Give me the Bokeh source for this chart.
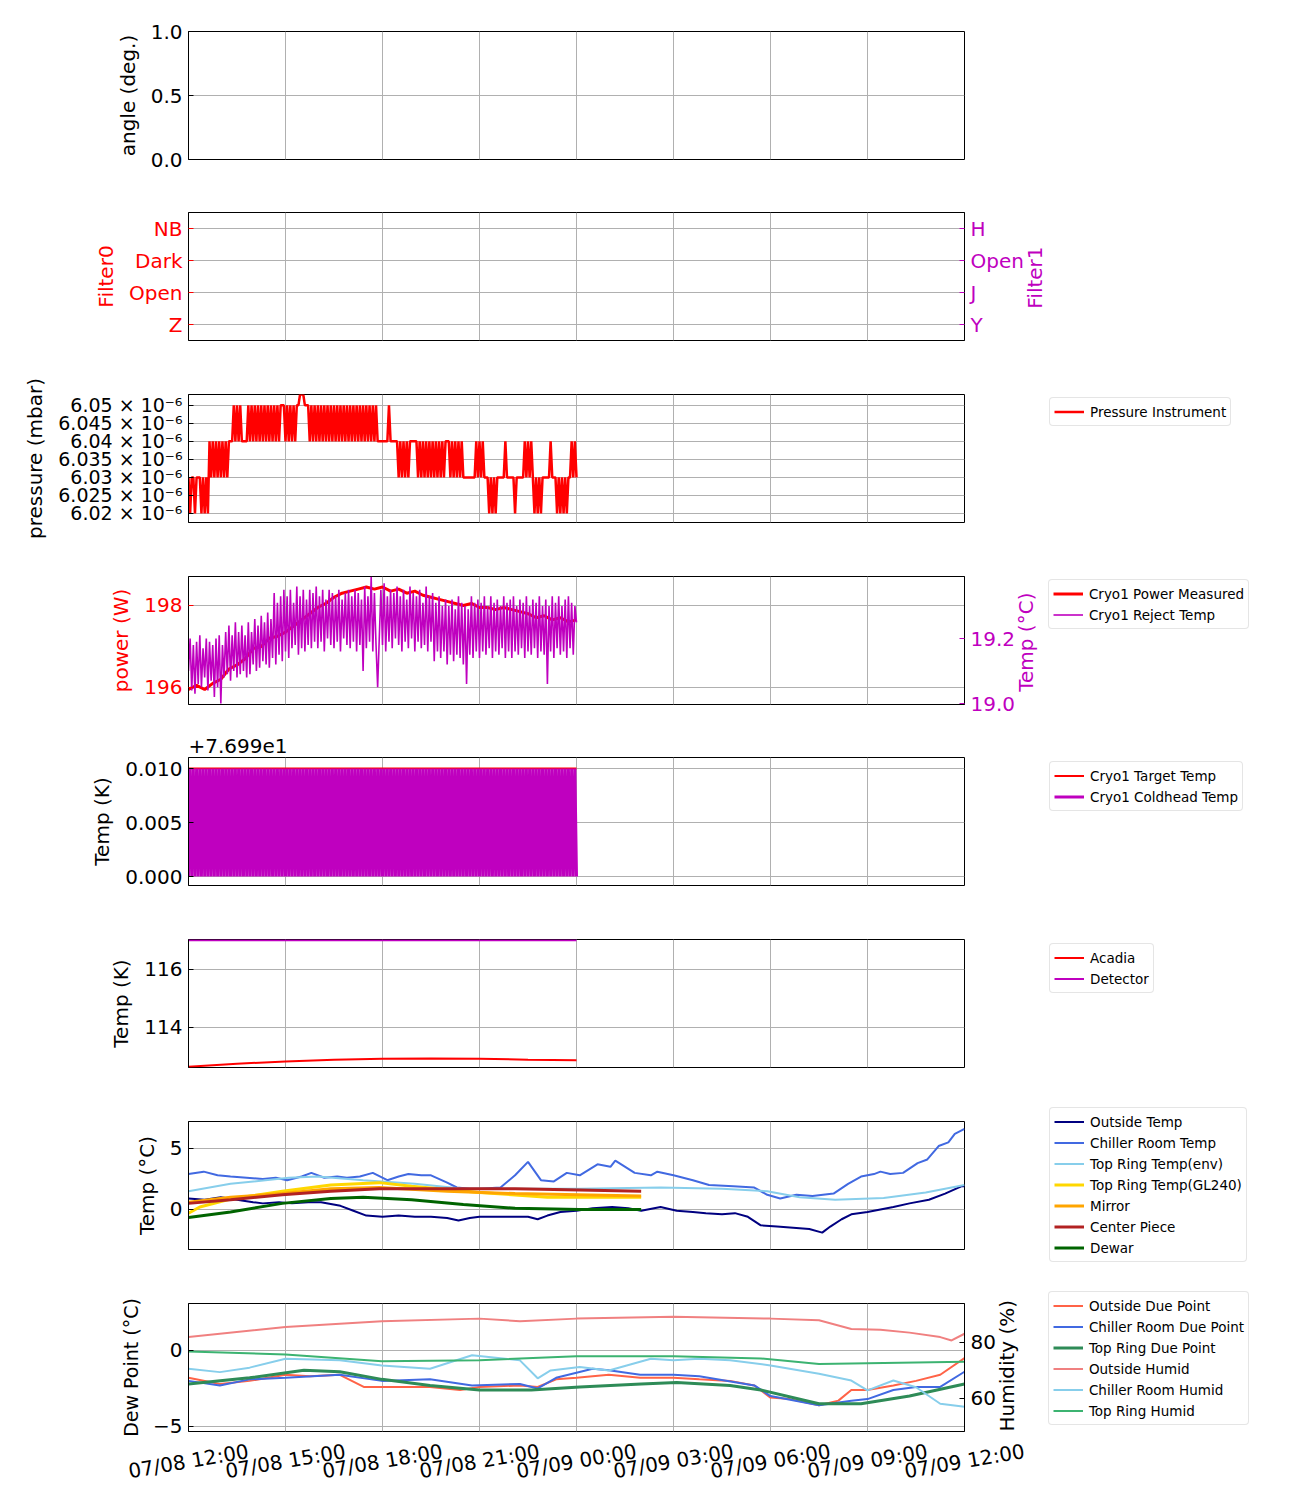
import math
from bokeh.plotting import figure
from bokeh.models import Range1d, LinearAxis, FixedTicker, Legend, LegendItem, ColumnDataSource
from bokeh.layouts import column
from bokeh.embed import file_html
from bokeh.resources import INLINE
from bokeh.core.properties import value

# ---------------- data ----------------
x_ticks = [0, 3, 6, 9, 12, 15, 18, 21, 24]
x_tick_labels = ["07/08 12:00", "07/08 15:00", "07/08 18:00", "07/08 21:00", "07/09 00:00",
                 "07/09 03:00", "07/09 06:00", "07/09 09:00", "07/09 12:00"]

angle_ticks = [0.0, 0.5, 1.0]
angle_tick_labels = ["0.0", "0.5", "1.0"]

filter_ticks = [0, 1, 2, 3]
filter0_labels = ["Z", "Open", "Dark", "NB"]
filter1_labels = ["Y", "J", "Open", "H"]

pressure_ticks = [6.02, 6.025, 6.03, 6.035, 6.04, 6.045, 6.05]
pressure_tick_labels = ["6.02 × 10⁻⁶", "6.025 × 10⁻⁶", "6.03 × 10⁻⁶", "6.035 × 10⁻⁶",
                        "6.04 × 10⁻⁶", "6.045 × 10⁻⁶", "6.05 × 10⁻⁶"]

# sample times in hours after 07/08 12:00 (3-minute samples)
t_fine = [round(i * 0.05, 2) for i in range(241)]
t_quarter = [i * 0.25 for i in range(49)]

# pressure instrument, in units of 1e-6 mbar (one row per hour)
pressure = [
    6.03, 6.02, 6.03, 6.03, 6.02, 6.03, 6.03, 6.03, 6.02, 6.03, 6.02, 6.03, 6.02, 6.04, 6.03, 6.04, 6.03, 6.04, 6.03, 6.04,
    6.03, 6.04, 6.03, 6.04, 6.03, 6.04, 6.04, 6.04, 6.05, 6.04, 6.05, 6.04, 6.05, 6.04, 6.04, 6.04, 6.04, 6.05, 6.04, 6.05,
    6.04, 6.05, 6.04, 6.05, 6.04, 6.05, 6.04, 6.05, 6.04, 6.05, 6.04, 6.05, 6.04, 6.05, 6.04, 6.05, 6.04, 6.05, 6.05, 6.05,
    6.04, 6.05, 6.04, 6.05, 6.04, 6.05, 6.04, 6.05, 6.05, 6.053, 6.053, 6.053, 6.05, 6.05, 6.05, 6.04, 6.05, 6.04, 6.05, 6.04,
    6.05, 6.04, 6.05, 6.04, 6.05, 6.04, 6.05, 6.04, 6.05, 6.04, 6.05, 6.04, 6.05, 6.04, 6.05, 6.04, 6.05, 6.04, 6.05, 6.04,
    6.05, 6.04, 6.05, 6.04, 6.05, 6.04, 6.05, 6.04, 6.05, 6.04, 6.05, 6.04, 6.05, 6.04, 6.05, 6.04, 6.05, 6.04, 6.04, 6.04,
    6.04, 6.04, 6.04, 6.04, 6.05, 6.04, 6.04, 6.04, 6.04, 6.04, 6.03, 6.04, 6.03, 6.04, 6.03, 6.04, 6.03, 6.04, 6.04, 6.04,
    6.04, 6.04, 6.03, 6.04, 6.03, 6.04, 6.03, 6.04, 6.03, 6.04, 6.03, 6.04, 6.03, 6.04, 6.03, 6.04, 6.03, 6.04, 6.03, 6.04,
    6.04, 6.04, 6.03, 6.04, 6.03, 6.04, 6.03, 6.04, 6.03, 6.04, 6.03, 6.03, 6.03, 6.03, 6.03, 6.03, 6.03, 6.03, 6.04, 6.03,
    6.04, 6.03, 6.04, 6.03, 6.03, 6.03, 6.02, 6.03, 6.02, 6.03, 6.02, 6.03, 6.03, 6.03, 6.03, 6.03, 6.04, 6.03, 6.03, 6.03,
    6.03, 6.03, 6.02, 6.03, 6.03, 6.03, 6.03, 6.03, 6.04, 6.03, 6.04, 6.03, 6.04, 6.03, 6.02, 6.03, 6.02, 6.03, 6.02, 6.03,
    6.03, 6.03, 6.03, 6.03, 6.04, 6.03, 6.03, 6.03, 6.02, 6.03, 6.02, 6.03, 6.02, 6.03, 6.02, 6.03, 6.03, 6.04, 6.03, 6.04,
    6.03]

power_ticks = [196, 198]
power_tick_labels = ["196", "198"]
cryo_power = [
    195.95, 196.05, 195.95, 196.1, 196.2, 196.45, 196.55, 196.7, 196.95, 197.0,
    197.2, 197.25, 197.35, 197.5, 197.65, 197.8, 197.95, 198.05, 198.2, 198.3,
    198.35, 198.4, 198.45, 198.4, 198.45, 198.35, 198.4, 198.3, 198.35, 198.25,
    198.2, 198.15, 198.1, 198.05, 198.0, 198.05, 197.95, 197.95, 197.9, 197.95,
    197.9, 197.85, 197.8, 197.7, 197.75, 197.65, 197.7, 197.6, 197.65]

reject_ticks = [19.0, 19.2]
reject_tick_labels = ["19.0", "19.2"]
reject_temp = [
    19.10, 19.20, 19.04, 19.18, 19.03, 19.19, 19.06, 19.21, 19.05, 19.17, 19.08, 19.20, 19.04, 19.19, 19.07, 19.18, 19.02, 19.20, 19.05, 19.21,
    19.00, 19.18, 19.08, 19.22, 19.09, 19.24, 19.07, 19.21, 19.10, 19.25, 19.08, 19.22, 19.09, 19.24, 19.10, 19.21, 19.08, 19.25, 19.09, 19.22,
    19.12, 19.26, 19.10, 19.24, 19.11, 19.27, 19.13, 19.25, 19.12, 19.28, 19.11, 19.26, 19.14, 19.34, 19.12, 19.31, 19.15, 19.33, 19.13, 19.35,
    19.16, 19.33, 19.14, 19.35, 19.17, 19.31, 19.18, 19.36, 19.15, 19.33, 19.17, 19.35, 19.16, 19.32, 19.18, 19.35, 19.17, 19.34, 19.19, 19.36,
    19.17, 19.33, 19.19, 19.35, 19.16, 19.32, 19.20, 19.35, 19.18, 19.34, 19.17, 19.33, 19.19, 19.35, 19.16, 19.32, 19.20, 19.34, 19.18, 19.35,
    19.17, 19.33, 19.19, 19.35, 19.16, 19.34, 19.18, 19.32, 19.10, 19.36, 19.17, 19.33, 19.19, 19.39, 19.16, 19.34, 19.18, 19.05, 19.20, 19.35,
    19.18, 19.37, 19.16, 19.33, 19.19, 19.35, 19.17, 19.34, 19.20, 19.36, 19.18, 19.33, 19.16, 19.35, 19.19, 19.32, 19.17, 19.36, 19.20, 19.34,
    19.16, 19.33, 19.19, 19.35, 19.17, 19.31, 19.18, 19.36, 19.16, 19.33, 19.19, 19.34, 19.13, 19.31, 19.16, 19.33, 19.14, 19.30, 19.16, 19.32,
    19.12, 19.30, 19.15, 19.32, 19.13, 19.29, 19.15, 19.33, 19.14, 19.31, 19.12, 19.30, 19.06, 19.29, 19.15, 19.33, 19.14, 19.31, 19.16, 19.32,
    19.14, 19.31, 19.16, 19.33, 19.15, 19.30, 19.17, 19.33, 19.14, 19.31, 19.16, 19.32, 19.15, 19.30, 19.17, 19.33, 19.14, 19.31, 19.16, 19.32,
    19.14, 19.33, 19.16, 19.30, 19.15, 19.32, 19.17, 19.31, 19.14, 19.33, 19.16, 19.30, 19.15, 19.32, 19.17, 19.31, 19.14, 19.33, 19.16, 19.30,
    19.15, 19.32, 19.06, 19.30, 19.16, 19.33, 19.14, 19.31, 19.17, 19.33, 19.15, 19.30, 19.16, 19.32, 19.14, 19.33, 19.17, 19.31, 19.15, 19.30,
    19.25]

coldhead_offset = 76.99
coldhead_ticks = [0.0, 0.005, 0.01]
coldhead_tick_labels = ["0.000", "0.005", "0.010"]
target_t = [0.0, 12.0]
target_temp = [77.0, 77.0]
coldhead_temp = [
    76.99, 77.0, 76.99, 77.0, 76.99, 77.0, 76.99, 77.0, 76.99, 77.0, 76.99, 77.0, 76.99, 77.0, 76.99, 77.0, 76.99, 77.0, 76.99, 77.0,
    76.99, 77.0, 76.99, 77.0, 76.99, 77.0, 76.99, 77.0, 76.99, 77.0, 76.99, 77.0, 76.99, 77.0, 76.99, 77.0, 76.99, 77.0, 76.99, 77.0,
    76.99, 77.0, 76.99, 77.0, 76.99, 77.0, 76.99, 77.0, 76.99, 77.0, 76.99, 77.0, 76.99, 77.0, 76.99, 77.0, 76.99, 77.0, 76.99, 77.0,
    76.99, 77.0, 76.99, 77.0, 76.99, 77.0, 76.99, 77.0, 76.99, 77.0, 76.99, 77.0, 76.99, 77.0, 76.99, 77.0, 76.99, 77.0, 76.99, 77.0,
    76.99, 77.0, 76.99, 77.0, 76.99, 77.0, 76.99, 77.0, 76.99, 77.0, 76.99, 77.0, 76.99, 77.0, 76.99, 77.0, 76.99, 77.0, 76.99, 77.0,
    76.99, 77.0, 76.99, 77.0, 76.99, 77.0, 76.99, 77.0, 76.99, 77.0, 76.99, 77.0, 76.99, 77.0, 76.99, 77.0, 76.99, 77.0, 76.99, 77.0,
    76.99, 77.0, 76.99, 77.0, 76.99, 77.0, 76.99, 77.0, 76.99, 77.0, 76.99, 77.0, 76.99, 77.0, 76.99, 77.0, 76.99, 77.0, 76.99, 77.0,
    76.99, 77.0, 76.99, 77.0, 76.99, 77.0, 76.99, 77.0, 76.99, 77.0, 76.99, 77.0, 76.99, 77.0, 76.99, 77.0, 76.99, 77.0, 76.99, 77.0,
    76.99, 77.0, 76.99, 77.0, 76.99, 77.0, 76.99, 77.0, 76.99, 77.0, 76.99, 77.0, 76.99, 77.0, 76.99, 77.0, 76.99, 77.0, 76.99, 77.0,
    76.99, 77.0, 76.99, 77.0, 76.99, 77.0, 76.99, 77.0, 76.99, 77.0, 76.99, 77.0, 76.99, 77.0, 76.99, 77.0, 76.99, 77.0, 76.99, 77.0,
    76.99, 77.0, 76.99, 77.0, 76.99, 77.0, 76.99, 77.0, 76.99, 77.0, 76.99, 77.0, 76.99, 77.0, 76.99, 77.0, 76.99, 77.0, 76.99, 77.0,
    76.99, 77.0, 76.99, 77.0, 76.99, 77.0, 76.99, 77.0, 76.99, 77.0, 76.99, 77.0, 76.99, 77.0, 76.99, 77.0, 76.99, 77.0, 76.99, 77.0,
    76.99]

acadia_ticks = [114, 116]
acadia_t = [0, 1.5, 3, 4.5, 6, 7.5, 9, 10.5, 12]
acadia_temp = [112.65, 112.75, 112.83, 112.89, 112.92, 112.93, 112.92, 112.89, 112.87]
detector_t = [0, 12]
detector_temp = [117.0, 117.0]

env_ticks = [0, 5]
outside_t = [0, 0.5, 1.0, 1.5, 2.0, 2.3, 2.8, 3.2, 3.7, 4.1, 4.7, 5.1, 5.5, 6.0, 6.5, 7.0, 7.5,
             8.0, 8.35, 8.7, 9.0, 9.5, 10.0, 10.5, 10.8, 11.1, 11.5, 12.0, 12.5, 13.1, 13.6,
             14.0, 14.6, 15.1, 15.6, 16.0, 16.5, 16.9, 17.3, 17.7, 18.2, 18.7, 19.2, 19.6,
             19.85, 20.2, 20.5, 21.0, 21.4, 21.8, 22.3, 22.9, 23.4, 23.9, 24.0]
outside_temp = [0.9, 0.8, 1.0, 0.8, 0.6, 0.5, 0.6, 0.5, 0.6, 0.6, 0.3, -0.1, -0.5, -0.6, -0.5,
                -0.6, -0.6, -0.7, -0.9, -0.7, -0.6, -0.6, -0.6, -0.6, -0.8, -0.5, -0.2, -0.1,
                0.1, 0.2, 0.1, -0.1, 0.2, -0.1, -0.2, -0.3, -0.4, -0.3, -0.6, -1.3, -1.4, -1.5,
                -1.6, -1.9, -1.4, -0.8, -0.4, -0.2, 0.0, 0.2, 0.5, 0.8, 1.3, 1.9, 1.9]
chiller_t = [0, 0.47, 0.9, 1.3, 1.8, 2.3, 2.7, 3.05, 3.5, 3.8, 4.2, 4.6, 4.9, 5.3, 5.7, 6.15,
             6.5, 6.8, 7.2, 7.5, 8.0, 8.3, 8.7, 9.0, 9.65, 10.1, 10.5, 10.9, 11.3, 11.7, 12.1,
             12.65, 13.05, 13.2, 13.8, 14.3, 14.5, 15.0, 15.6, 16.1, 16.85, 17.5, 17.9, 18.3,
             18.8, 19.3, 19.95, 20.4, 20.8, 21.2, 21.4, 21.7, 22.1, 22.55, 22.85, 23.2, 23.5,
             23.7, 24.0]
chiller_temp = [2.9, 3.1, 2.8, 2.7, 2.6, 2.5, 2.6, 2.4, 2.7, 3.0, 2.6, 2.7, 2.6, 2.7, 3.0, 2.4,
                2.7, 2.9, 2.8, 2.8, 2.2, 1.8, 1.7, 1.7, 1.8, 2.8, 3.9, 2.4, 2.3, 3.0, 2.8, 3.7,
                3.5, 4.0, 3.0, 2.8, 3.1, 2.8, 2.4, 2.0, 1.9, 1.8, 1.2, 0.9, 1.2, 1.1, 1.3, 2.1,
                2.7, 2.9, 3.1, 2.9, 3.0, 3.8, 4.1, 5.2, 5.5, 6.2, 6.6]
topring_env_t = [0, 1.3, 3.1, 4.0, 5.4, 7.0, 8.5, 10.1, 12.1, 14.6, 16.5, 17.9, 18.9, 20.0,
                 21.5, 22.8, 24.0]
topring_env_temp = [1.5, 2.1, 2.6, 2.7, 2.4, 2.1, 1.7, 1.7, 1.7, 1.8, 1.7, 1.5, 1.0, 0.8, 0.95,
                    1.4, 2.0]
gl240_t = [0, 0.35, 1.3, 2.9, 4.4, 5.9, 6.9, 9.0, 11.1, 14.0]
gl240_temp = [-0.3, 0.2, 0.85, 1.5, 2.0, 2.2, 1.9, 1.4, 1.0, 1.0]
mirror_t = [0, 1.3, 2.9, 4.4, 5.9, 8.0, 10.1, 14.0]
mirror_temp = [0.6, 1.0, 1.3, 1.7, 1.8, 1.5, 1.3, 1.1]
center_t = [0, 1.3, 2.9, 4.4, 5.9, 8.0, 10.1, 12.1, 14.0]
center_temp = [0.5, 0.8, 1.2, 1.5, 1.7, 1.7, 1.7, 1.6, 1.5]
dewar_t = [0, 1.3, 2.9, 4.4, 5.4, 6.9, 8.5, 10.1, 12.1, 14.0]
dewar_temp = [-0.65, -0.2, 0.5, 0.9, 1.0, 0.8, 0.4, 0.1, 0.0, 0.0]

dew_ticks = [-5, 0]
dew_tick_labels = ["\u22125", "0"]
humid_ticks = [60, 80]
out_dew_t = [0, 0.97, 1.89, 3.0, 3.75, 4.68, 5.42, 5.98, 7.47, 8.4, 9.0, 10.25, 10.8, 11.37,
             12.0, 13.0, 13.97, 15.0, 15.8, 16.75, 17.5, 18.0, 18.6, 19.5, 20.1, 20.5, 21.0,
             21.8, 22.5, 23.25, 24.0]
out_dew = [-1.8, -2.2, -2.0, -1.6, -1.7, -1.6, -2.4, -2.4, -2.4, -2.6, -2.4, -2.3, -2.4, -1.9,
           -1.8, -1.6, -1.8, -1.8, -1.9, -2.0, -2.3, -3.1, -3.2, -3.6, -3.3, -2.6, -2.6, -2.3,
           -2.0, -1.6, -0.5]
chill_dew_t = [0, 0.97, 1.89, 3.0, 4.68, 5.98, 7.47, 8.77, 10.25, 10.8, 11.37, 12.5, 13.0,
               13.97, 15.0, 15.8, 17.5, 18.0, 19.5, 20.5, 21.0, 21.8, 22.5, 23.25, 24.0]
chill_dew = [-2.0, -2.3, -1.9, -1.8, -1.6, -2.0, -1.9, -2.3, -2.2, -2.5, -1.8, -1.2, -1.3, -1.6,
             -1.6, -1.7, -2.3, -3.0, -3.6, -3.3, -3.2, -2.6, -2.4, -2.4, -1.4]
ring_dew_t = [0, 1.89, 3.57, 4.68, 5.98, 7.47, 9.0, 10.6, 12.1, 14.0, 15.1, 16.75, 17.7, 19.5,
              20.8, 22.3, 24.0]
ring_dew = [-2.2, -1.8, -1.3, -1.4, -1.9, -2.3, -2.6, -2.6, -2.4, -2.2, -2.1, -2.3, -2.6, -3.5,
            -3.5, -3.0, -2.2]
out_hum_t = [0, 3.0, 5.98, 9.0, 10.25, 12.0, 15.0, 18.0, 19.5, 20.5, 21.4, 22.3, 23.25, 23.6, 24.0]
out_hum = [81.9, 85.5, 87.6, 88.5, 87.6, 88.5, 89.2, 88.5, 87.9, 84.8, 84.5, 83.5, 81.9, 80.7, 83.1]
chill_hum_t = [0, 0.97, 1.89, 3.0, 4.68, 5.98, 7.47, 8.77, 10.25, 10.8, 11.2, 12.1, 13.0, 14.3,
               15.0, 15.8, 16.75, 18.0, 19.5, 20.5, 21.0, 21.8, 22.5, 23.25, 24.0]
chill_hum = [70.6, 69.4, 71.0, 74.2, 73.6, 71.8, 70.6, 75.4, 73.6, 67.2, 70.0, 71.2, 70.0, 74.2,
             73.6, 74.2, 73.6, 71.8, 68.8, 66.4, 62.9, 66.4, 64.0, 58.1, 57.0]
ring_hum_t = [0, 3.0, 5.98, 9.0, 12.0, 15.0, 17.7, 19.5, 24.0]
ring_hum = [76.8, 75.7, 73.3, 73.6, 75.1, 75.1, 74.3, 72.3, 73.1]

# ---------------- styling ----------------
FONT = "DejaVu Sans"
RED = "#ff0000"
MAG = "#bf00bf"
FRAME_W, FRAME_H = 776, 128
LEFT, RIGHT = 188, 330
NBSP = "\u00a0"


def style_axis(ax, color="black", size="20px", label_size="20px"):
    ax.major_tick_in = 5
    ax.major_tick_out = 0
    ax.minor_tick_in = 0
    ax.minor_tick_out = 0
    ax.major_tick_line_color = color
    ax.axis_line_color = "black"
    ax.major_label_text_font = FONT
    ax.major_label_text_font_size = size
    ax.major_label_text_color = color
    ax.axis_label_text_font = FONT
    ax.axis_label_text_font_size = label_size
    ax.axis_label_text_font_style = "normal"
    ax.axis_label_text_color = color
    ax.major_label_standoff = 6
    ax.axis_label_standoff = 8


def make_fig(y0, y1, top=27, bottom=27):
    p = figure(frame_width=FRAME_W, frame_height=FRAME_H, x_range=Range1d(0, 24),
               y_range=Range1d(y0, y1), output_backend="svg", toolbar_location=None, tools="",
               min_border_left=LEFT, min_border_right=RIGHT, min_border_top=top,
               min_border_bottom=bottom)
    p.outline_line_color = "black"
    p.outline_line_width = 1
    p.outline_line_alpha = 1
    p.xaxis.visible = False
    p.xgrid.ticker = FixedTicker(ticks=x_ticks)
    p.grid.grid_line_color = "#b0b0b0"
    p.grid.grid_line_width = 1
    return p


def set_left(p, ticks, labels, label, color="black", size="20px", label_size="20px"):
    ax = p.yaxis[0]
    ax.ticker = FixedTicker(ticks=ticks)
    ax.major_label_overrides = dict(zip(ticks, labels))
    ax.axis_label = label
    style_axis(ax, color, size, label_size)


def add_right(p, ticks, labels, label, color, range_name="default", lift=0):
    ax = LinearAxis(y_range_name=range_name, axis_label=NBSP * lift + label)
    ax.ticker = FixedTicker(ticks=ticks)
    ax.major_label_overrides = dict(zip(ticks, labels))
    style_axis(ax, color)
    props = ax.properties()
    if "axis_label_orientation" in props:
        ax.axis_label_orientation = math.pi / 2
    if "axis_label_align" in props:
        ax.axis_label_align = "start"
    p.add_layout(ax, "right")


def add_legend(p, pairs, vx, vy):
    leg = Legend(items=[LegendItem(label=lab, renderers=[r]) for lab, r in pairs],
                 location=(vx, vy))
    leg.label_text_font = FONT
    leg.label_text_font_size = "13.5px"
    leg.label_text_color = "black"
    leg.glyph_width = 30
    leg.glyph_height = 19
    leg.label_height = 19
    leg.label_standoff = 6
    leg.spacing = 2
    leg.padding = 4
    leg.margin = 0
    leg.border_line_color = "#cccccc"
    leg.border_line_width = 1
    leg.background_fill_alpha = 0.8
    if "border_radius" in leg.properties():
        leg.border_radius = 4
    p.add_layout(leg, "right")


figs = []

# 1. angle
p1 = make_fig(0, 1, top=31, bottom=26)
set_left(p1, angle_ticks, angle_tick_labels, "angle (deg.)")
figs.append(p1)

# 2. filters
p2 = make_fig(-0.5, 3.5)
set_left(p2, filter_ticks, filter0_labels, "Filter0", RED)
add_right(p2, filter_ticks, filter1_labels, "Filter1", MAG, lift=5)
figs.append(p2)

# 3. pressure
p3 = make_fig(6.0175, 6.053)
set_left(p3, pressure_ticks, pressure_tick_labels, "pressure (mbar)", size="19px")
r_p = p3.line(t_fine, pressure, line_color=RED, line_width=2.5)
add_legend(p3, [("Pressure Instrument", r_p)], 85, 96)
figs.append(p3)

# 4. cryo power / reject temp
p4 = make_fig(195.585, 198.707, bottom=21)
p4.extra_y_ranges = {"reject": Range1d(18.997, 19.391)}
set_left(p4, power_ticks, power_tick_labels, "power (W)", RED)
add_right(p4, reject_ticks, reject_tick_labels, "Temp (°C)", MAG, "reject", lift=2)
r_pow = p4.line(t_quarter, cryo_power, line_color=RED, line_width=3)
r_rej = p4.line(t_fine, reject_temp, line_color=MAG, line_width=1.6, y_range_name="reject")
add_legend(p4, [("Cryo1 Power Measured", r_pow), ("Cryo1 Reject Temp", r_rej)], -240, 75)
figs.append(p4)

# 5. cryo target / coldhead
p5 = make_fig(-0.00083, 0.01102, top=32)
set_left(p5, coldhead_ticks, coldhead_tick_labels, "Temp (K)")
p5.title.text = "+7.699e1"
p5.title.align = "left"
p5.title.text_font = FONT
p5.title.text_font_size = "20px"
p5.title.text_font_style = "normal"
p5.title.text_color = "black"
p5.title.standoff = 9
p5.title.offset = 0
r_tgt = p5.line(target_t, [v - coldhead_offset for v in target_temp], line_color=RED, line_width=2)
r_cold = p5.line(t_fine, [v - coldhead_offset for v in coldhead_temp], line_color=MAG, line_width=3)
add_legend(p5, [("Cryo1 Target Temp", r_tgt), ("Cryo1 Coldhead Temp", r_cold)], 85, 74)
figs.append(p5)

# 6. acadia / detector
p6 = make_fig(112.62, 117.03)
set_left(p6, acadia_ticks, [str(v) for v in acadia_ticks], "Temp (K)")
r_ac = p6.line(acadia_t, acadia_temp, line_color=RED, line_width=2)
r_det = p6.line(detector_t, detector_temp, line_color=MAG, line_width=2)
add_legend(p6, [("Acadia", r_ac), ("Detector", r_det)], 85, 74)
figs.append(p6)

# 7. environment temperatures
p7 = make_fig(-3.28, 7.21)
set_left(p7, env_ticks, [str(v) for v in env_ticks], "Temp (°C)")
r_o = p7.line(outside_t, outside_temp, line_color="#000080", line_width=2)
r_c = p7.line(chiller_t, chiller_temp, line_color="#4169e1", line_width=2)
r_te = p7.line(topring_env_t, topring_env_temp, line_color="#87ceeb", line_width=2)
r_gl = p7.line(gl240_t, gl240_temp, line_color="#ffd700", line_width=3)
r_m = p7.line(mirror_t, mirror_temp, line_color="#ffa500", line_width=3)
r_cp = p7.line(center_t, center_temp, line_color="#b22222", line_width=3)
r_dw = p7.line(dewar_t, dewar_temp, line_color="#006400", line_width=3)
add_legend(p7, [("Outside Temp", r_o), ("Chiller Room Temp", r_c), ("Top Ring Temp(env)", r_te),
                ("Top Ring Temp(GL240)", r_gl), ("Mirror", r_m), ("Center Piece", r_cp),
                ("Dewar", r_dw)], 85, -13)
figs.append(p7)

# 8. dew point / humidity
p8 = make_fig(-5.33, 3.09, bottom=7)
p8.extra_y_ranges = {"hum": Range1d(48.2, 93.9)}
set_left(p8, dew_ticks, dew_tick_labels, "Dew Point (°C)", label_size="19px")
add_right(p8, humid_ticks, [str(v) for v in humid_ticks], "Humidity (%)", "black", "hum")
r_od = p8.line(out_dew_t, out_dew, line_color="#ff6347", line_width=2)
r_cd = p8.line(chill_dew_t, chill_dew, line_color="#4169e1", line_width=2)
r_rd = p8.line(ring_dew_t, ring_dew, line_color="#2e8b57", line_width=3)
r_oh = p8.line(out_hum_t, out_hum, line_color="#f08080", line_width=2, y_range_name="hum")
r_ch = p8.line(chill_hum_t, chill_hum, line_color="#87ceeb", line_width=2, y_range_name="hum")
r_rh = p8.line(ring_hum_t, ring_hum, line_color="#3cb371", line_width=2, y_range_name="hum")
add_legend(p8, [("Outside Due Point", r_od), ("Chiller Room Due Point", r_cd),
                ("Top Ring Due Point", r_rd), ("Outside Humid", r_oh),
                ("Chiller Room Humid", r_ch), ("Top Ring Humid", r_rh)], -220, 6)
figs.append(p8)

# 9. rotated time labels, centred on the ticks
pad = 80 / (FRAME_W / 24)
p9 = figure(frame_width=FRAME_W + 160, frame_height=52, x_range=Range1d(-pad, 24 + pad),
            y_range=Range1d(0, 1), output_backend="svg", toolbar_location=None, tools="",
            min_border_left=LEFT - 80, min_border_right=0, min_border_top=0, min_border_bottom=0,
            x_axis_location=None, y_axis_location=None)
p9.outline_line_color = None
p9.grid.visible = False
src = ColumnDataSource(dict(x=x_ticks, y=[0.565] * len(x_ticks), text=x_tick_labels))
p9.text(x="x", y="y", text="text", source=src, angle=0.17, text_align="center",
        text_baseline="middle", text_font=value(FONT), text_font_size="20px", text_color="black")

layout = column(column(*figs, spacing=0), p9, spacing=0)
open("out.html", "w").write(file_html(layout, INLINE))
